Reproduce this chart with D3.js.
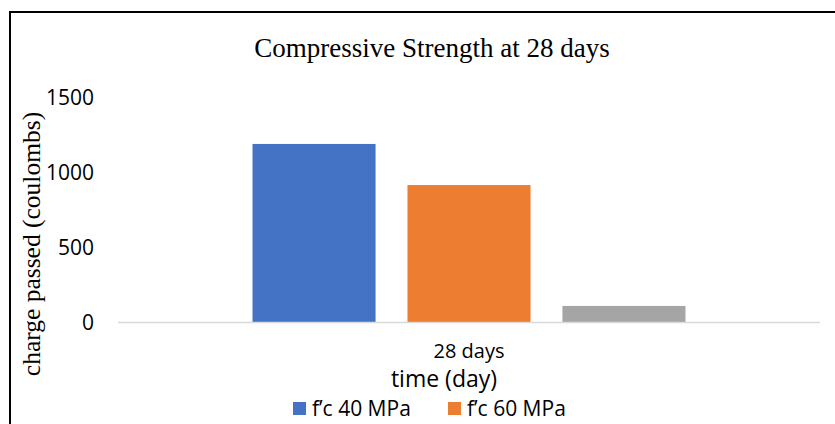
<!DOCTYPE html>
<html>
<head>
<meta charset="utf-8">
<script src="https://cdn.jsdelivr.net/npm/d3@7"></script>
<style>
  html, body { margin: 0; padding: 0; background: #fff; }
  svg { display: block; }
  .sans { font-family: "Open Sans", "Noto Sans", sans-serif; fill: #000; }
  .serif { font-family: "Liberation Serif", "Times New Roman", serif; fill: #000; }
</style>
</head>
<body>
<svg id="chart" width="835" height="424"></svg>
<script>
// Chart data
const categories = ["28 days"];
const seriesNames = ["f’c 40 MPa", "f’c 60 MPa", "Series 3"];
const seriesValues = [1187, 913, 107];
const seriesColors = ["#4472C4", "#ED7D31", "#A5A5A5"];
const legendSeries = [0, 1];
const yTicks = [0, 500, 1000, 1500];

const svg = d3.select("#chart");
const W = 835, H = 424;
const sansFont = "'Open Sans', 'Noto Sans', sans-serif";

// Outer frame (left and top edges visible)
svg.append("line").attr("x1", 10).attr("x2", 10).attr("y1", 11).attr("y2", H)
  .attr("stroke", "#000").attr("stroke-width", 2);
svg.append("line").attr("x1", 9).attr("x2", W).attr("y1", 12).attr("y2", 12)
  .attr("stroke", "#000").attr("stroke-width", 2);

const plot = { left: 118, right: 820, top: 97, bottom: 322 };

const y = d3.scaleLinear().domain([0, 1500]).range([plot.bottom, plot.top]);
const x0 = d3.scaleBand().domain(categories).range([plot.left, plot.right]).padding(0);
const x1 = d3.scaleBand().domain(d3.range(seriesNames.length))
  .range([0, x0.bandwidth()]).paddingInner(0.206).paddingOuter(0.868);

// Title
svg.append("text").attr("class", "serif")
  .attr("x", 432).attr("y", 57).attr("text-anchor", "middle")
  .attr("font-size", 27).text("Compressive Strength at 28 days");

// Y axis tick labels (no axis line)
const yAxis = d3.axisLeft(y).tickValues(yTicks).tickSize(0).tickPadding(0).tickFormat(d3.format("d"));
const yg = svg.append("g").attr("transform", `translate(94,0)`).call(yAxis);
yg.select(".domain").remove();
yg.selectAll("text").attr("font-size", 21).attr("fill", "#000")
  .attr("font-family", sansFont).attr("dy", "0.35em");

// Y axis title
svg.append("text").attr("class", "serif")
  .attr("transform", `translate(40,${244}) rotate(-90)`)
  .attr("text-anchor", "middle").attr("font-size", 25.5)
  .text("charge passed (coulombs)");

// Bars
const g = svg.append("g");
categories.forEach((cat) => {
  seriesValues.forEach((v, si) => {
    g.append("rect")
      .attr("x", x0(cat) + x1(si))
      .attr("y", y(v))
      .attr("width", x1.bandwidth())
      .attr("height", y(0) - y(v))
      .attr("fill", seriesColors[si]);
  });
});

// Baseline
svg.append("line").attr("x1", plot.left).attr("x2", plot.right)
  .attr("y1", y(0) + 0.5).attr("y2", y(0) + 0.5)
  .attr("stroke", "#D9D9D9").attr("stroke-width", 1.5);

// Category label
const xAxis = d3.axisBottom(x0).tickSize(0).tickPadding(0);
const xg = svg.append("g").attr("transform", `translate(0,${plot.bottom})`).call(xAxis);
xg.select(".domain").remove();
xg.selectAll("text").attr("font-size", 20).attr("fill", "#000")
  .attr("font-family", sansFont)
  .attr("dy", null).attr("y", 36);

// X axis title
svg.append("text").attr("class", "sans")
  .attr("x", 444).attr("y", 387).attr("text-anchor", "middle")
  .attr("font-size", 23).text("time (day)");

// Legend
const legendX = [293, 448];
legendSeries.forEach((si, i) => {
  const lg = svg.append("g").attr("transform", `translate(${legendX[i]},402)`);
  lg.append("rect").attr("width", 13).attr("height", 13).attr("fill", seriesColors[si]);
  lg.append("text").attr("class", "sans").attr("x", 19).attr("y", 14)
    .attr("font-size", 21).text(seriesNames[si]);
});
</script>
</body>
</html>
